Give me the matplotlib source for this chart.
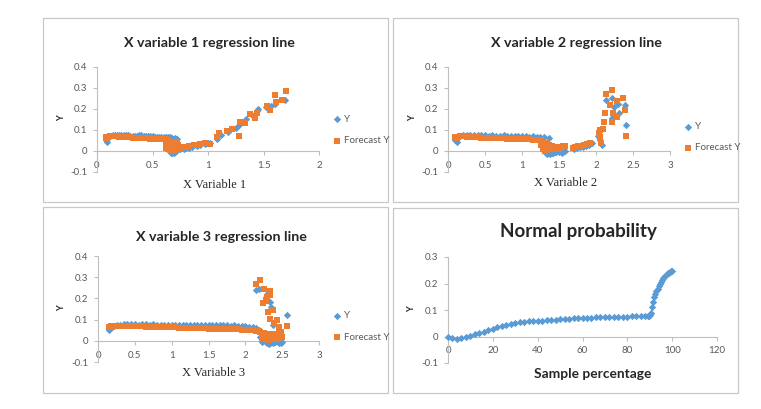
import matplotlib as mpl
import matplotlib.pyplot as plt
from matplotlib.patches import Rectangle

# -- data ---------------------------------------------------------------------
# X variable 1
x1_y = [0.08, 0.09, 0.10, 0.12, 0.14, 0.16, 0.18, 0.20, 0.22, 0.24, 0.26, 0.28,
        0.30, 0.32, 0.34, 0.36, 0.38, 0.40, 0.42, 0.44, 0.46, 0.48, 0.50, 0.52,
        0.54, 0.56, 0.58, 0.60,
        0.62, 0.63, 0.64, 0.65, 0.66, 0.67, 0.68, 0.69, 0.70, 0.71, 0.72, 0.73,
        0.64, 0.66, 0.68, 0.70, 0.72,
        0.75, 0.78, 0.80, 0.83, 0.86, 0.90, 0.93, 0.97, 1.00, 1.02, 1.08, 1.12,
        1.18, 1.25, 1.28, 1.31, 1.34, 1.40, 1.44, 1.45, 1.52, 1.57, 1.60, 1.69]
y1_y = [0.050, 0.045, 0.062, 0.072, 0.076, 0.078, 0.077, 0.077, 0.076, 0.075,
        0.074, 0.074, 0.073, 0.073, 0.072, 0.072, 0.074, 0.076, 0.072, 0.071,
        0.071, 0.070, 0.070, 0.069, 0.069, 0.068, 0.068, 0.067,
        0.065, 0.045, 0.025, 0.010, 0.000, -0.008, -0.010, -0.010, -0.005,
        0.000, 0.005, 0.010,
        0.066, 0.065, 0.064, 0.062, 0.058,
        0.008, 0.010, 0.012, 0.016, 0.020, 0.024, 0.028, 0.034, 0.040, 0.038,
        0.058, 0.075, 0.090, 0.110, 0.125, 0.140, 0.150, 0.170, 0.190, 0.200,
        0.210, 0.215, 0.225, 0.245]
x1_f = [0.08, 0.09, 0.10, 0.12, 0.14, 0.16, 0.18, 0.20, 0.22, 0.24, 0.26, 0.28,
        0.30, 0.32, 0.34, 0.36, 0.38, 0.40, 0.42, 0.44, 0.46, 0.48, 0.50, 0.52,
        0.54, 0.56, 0.58, 0.60,
        0.62, 0.62, 0.62, 0.64, 0.64, 0.64, 0.66, 0.66, 0.66, 0.68, 0.68, 0.68,
        0.70, 0.70, 0.70, 0.72, 0.72, 0.72, 0.73,
        0.75, 0.78, 0.80, 0.83, 0.87, 0.90, 0.93, 0.97, 1.02, 1.08, 1.10, 1.17,
        1.22, 1.28, 1.29, 1.33, 1.38, 1.42, 1.44, 1.53, 1.56, 1.60, 1.61, 1.67,
        1.70]
y1_f = [0.065, 0.060, 0.068, 0.071, 0.072, 0.071, 0.070, 0.069, 0.068, 0.067,
        0.066, 0.066, 0.065, 0.064, 0.063, 0.063, 0.062, 0.061, 0.061, 0.060,
        0.060, 0.059, 0.058, 0.058, 0.057, 0.056, 0.056, 0.055,
        0.055, 0.035, 0.015, 0.050, 0.028, 0.008, 0.045, 0.025, 0.003, 0.040,
        0.020, 0.002, 0.040, 0.022, 0.006, 0.045, 0.025, 0.010, 0.030,
        0.015, 0.020, 0.020, 0.025, 0.027, 0.030, 0.032, 0.040, 0.035, 0.065,
        0.085, 0.095, 0.105, 0.070, 0.140, 0.135, 0.175, 0.155, 0.180, 0.215,
        0.195, 0.265, 0.235, 0.245, 0.285]

# X variable 2
x2_y = [0.10, 0.12, 0.14, 0.16, 0.20, 0.25, 0.30, 0.35, 0.40, 0.45, 0.50, 0.55,
        0.60, 0.65, 0.70, 0.75, 0.80, 0.85, 0.90, 0.95, 1.00, 1.05, 1.10, 1.15,
        1.20, 1.24,
        1.26, 1.28, 1.30, 1.32, 1.34, 1.36, 1.38, 1.40, 1.42, 1.44, 1.46, 1.50,
        1.54, 1.58, 1.30, 1.36,
        1.70, 1.74, 1.78, 1.82, 1.86, 1.90, 1.94,
        2.03, 2.05, 2.08, 2.14, 2.21, 2.22, 2.24, 2.30, 2.31, 2.39, 2.41]
y2_y = [0.050, 0.045, 0.065, 0.072, 0.076, 0.077, 0.076, 0.078, 0.076, 0.075,
        0.074, 0.073, 0.074, 0.073, 0.073, 0.074, 0.072, 0.073, 0.071, 0.071,
        0.070, 0.070, 0.069, 0.070, 0.068, 0.067,
        0.040, 0.020, 0.000, -0.008, -0.012, -0.010, -0.012, -0.010, -0.008,
        -0.006, -0.004, -0.005, -0.010, 0.000, 0.065, 0.060,
        0.010, 0.015, 0.018, 0.020, 0.025, 0.030, 0.040,
        0.070, 0.052, 0.028, 0.245, 0.155, 0.250, 0.210, 0.223, 0.182, 0.221,
        0.122]
x2_f = [0.10, 0.12, 0.14, 0.16, 0.20, 0.25, 0.30, 0.35, 0.40, 0.45, 0.50, 0.55,
        0.60, 0.65, 0.70, 0.75, 0.80, 0.85, 0.90, 0.95, 1.00, 1.05, 1.10, 1.15,
        1.20, 1.24,
        1.25, 1.25, 1.28, 1.28, 1.28, 1.31, 1.31, 1.31, 1.34, 1.34, 1.34, 1.37,
        1.37, 1.40, 1.40, 1.43, 1.46, 1.50, 1.53, 1.56, 1.58,
        1.69, 1.72, 1.76, 1.80, 1.84, 1.88, 1.92,
        2.04, 2.05, 2.06, 2.07, 2.10, 2.11, 2.12, 2.14, 2.19, 2.21, 2.22, 2.23,
        2.29, 2.29, 2.36, 2.39, 2.41]
y2_f = [0.065, 0.062, 0.068, 0.070, 0.070, 0.069, 0.068, 0.066, 0.065, 0.064,
        0.063, 0.062, 0.062, 0.061, 0.060, 0.060, 0.059, 0.058, 0.058, 0.057,
        0.056, 0.055, 0.055, 0.054, 0.053, 0.052,
        0.050, 0.030, 0.045, 0.025, 0.008, 0.040, 0.020, 0.002, 0.040, 0.018,
        0.004, 0.030, 0.010, 0.025, 0.008, 0.015, 0.020, 0.010, 0.020, 0.025,
        0.025,
        0.015, 0.020, 0.022, 0.025, 0.030, 0.035, 0.040,
        0.084, 0.100, 0.068, 0.036, 0.107, 0.139, 0.179, 0.270, 0.218, 0.139,
        0.290, 0.179, 0.237, 0.160, 0.253, 0.194, 0.070]

# X variable 3
x3_y = [0.15, 0.18, 0.22, 0.26, 0.30, 0.35, 0.40, 0.45, 0.50, 0.55, 0.60, 0.65,
        0.70, 0.75, 0.80, 0.85, 0.90, 0.95, 1.00, 1.05, 1.10, 1.15, 1.20, 1.25,
        1.30, 1.35, 1.40, 1.45, 1.50, 1.55, 1.60, 1.65, 1.70, 1.75, 1.80, 1.85,
        1.90, 1.95, 2.00, 2.05, 2.10, 2.15,
        2.18, 2.20, 2.22, 2.24, 2.26, 2.28, 2.30, 2.32, 2.34, 2.36, 2.38, 2.40,
        2.42, 2.44, 2.46, 2.48, 2.50,
        2.15, 2.19, 2.28, 2.30, 2.33, 2.35, 2.38, 2.57]
y3_y = [0.050, 0.060, 0.070, 0.074, 0.076, 0.077, 0.078, 0.077, 0.078, 0.076,
        0.077, 0.078, 0.076, 0.077, 0.075, 0.076, 0.075, 0.076, 0.075, 0.076,
        0.075, 0.074, 0.076, 0.075, 0.074, 0.075, 0.076, 0.075, 0.074, 0.073,
        0.074, 0.073, 0.074, 0.073, 0.072, 0.073, 0.071, 0.070, 0.068, 0.066,
        0.064, 0.060,
        0.050, 0.020, -0.005, 0.000, 0.010, -0.005, -0.010, -0.013, -0.010,
        -0.008, -0.010, -0.005, 0.000, -0.008, -0.010, -0.010, -0.005,
        0.238, 0.246, 0.207, 0.223, 0.184, 0.160, 0.074, 0.124]
x3_f = [0.15, 0.18, 0.22, 0.26, 0.30, 0.35, 0.40, 0.45, 0.50, 0.55, 0.60, 0.65,
        0.70, 0.75, 0.80, 0.85, 0.90, 0.95, 1.00, 1.05, 1.10, 1.15, 1.20, 1.25,
        1.30, 1.35, 1.40, 1.45, 1.50, 1.55, 1.60, 1.65, 1.70, 1.75, 1.80, 1.85,
        1.90, 1.95, 2.00, 2.05, 2.10, 2.15,
        2.18, 2.20, 2.22, 2.22, 2.25, 2.25, 2.28, 2.28, 2.31, 2.31, 2.34, 2.34,
        2.37, 2.37, 2.40, 2.40, 2.43, 2.43, 2.46, 2.46, 2.49,
        2.15, 2.20, 2.26, 2.24, 2.28, 2.30, 2.34, 2.34, 2.31, 2.37, 2.33, 2.39,
        2.43, 2.46, 2.48, 2.50, 2.57]
y3_f = [0.065, 0.068, 0.070, 0.072, 0.072, 0.071, 0.070, 0.070, 0.069, 0.068,
        0.068, 0.067, 0.066, 0.066, 0.065, 0.065, 0.064, 0.064, 0.063, 0.063,
        0.062, 0.062, 0.061, 0.061, 0.060, 0.060, 0.059, 0.059, 0.058, 0.058,
        0.057, 0.057, 0.056, 0.056, 0.055, 0.055, 0.054, 0.053, 0.052, 0.051,
        0.050, 0.048,
        0.045, 0.040, 0.030, 0.012, 0.035, 0.015, 0.030, 0.010, 0.025, 0.005,
        0.030, 0.010, 0.030, 0.012, 0.025, 0.008, 0.030, 0.010, 0.040, 0.015,
        0.020,
        0.270, 0.285, 0.246, 0.176, 0.190, 0.207, 0.235, 0.215, 0.136, 0.144,
        0.105, 0.082, 0.097, 0.066, 0.042, 0.019, 0.069]

# Normal probability
pct = [0, 2, 4, 6, 8, 10, 12, 14, 16, 18, 20, 22, 24, 26, 28, 30, 32, 34, 36,
       38, 40, 42, 44, 46, 48, 50, 52, 54, 56, 58, 60, 62, 64, 66, 68, 70, 72,
       74, 76, 78, 80, 82, 84, 86, 88,
       89, 89.5, 90, 90.5, 91, 91.5, 92, 92.5, 93, 93.5, 94, 94.5, 95, 95.5,
       96, 96.5, 97, 97.5, 98, 98.5, 99, 99.5, 100]
pct_y = [-0.002, -0.006, -0.008, -0.006, -0.002, 0.003, 0.008, 0.013, 0.018,
         0.024, 0.029, 0.034, 0.039, 0.043, 0.047, 0.050, 0.053, 0.055, 0.057,
         0.058, 0.059, 0.060, 0.062, 0.063, 0.064, 0.065, 0.066, 0.067, 0.068,
         0.069, 0.070, 0.071, 0.071, 0.072, 0.072, 0.073, 0.073, 0.074, 0.074,
         0.075, 0.075, 0.076, 0.076, 0.077, 0.077,
         0.078, 0.078, 0.080, 0.090, 0.110, 0.130, 0.150, 0.160, 0.170, 0.180,
         0.190, 0.198, 0.205, 0.212, 0.219, 0.224, 0.229, 0.234, 0.238, 0.241,
         0.244, 0.246, 0.248]

titles = ["X variable 1 regression line", "X variable 2 regression line",
          "X variable 3 regression line", "Normal probability"]
xlabels = ["X Variable 1", "X Variable 2", "X Variable 3", "Sample percentage"]

# -- style --------------------------------------------------------------------
mpl.rcParams.update({
    "font.family": ["Lato", "DejaVu Sans"],
    "font.size": 7,
})
BLUE = "#5B9BD5"
ORANGE = "#ED7D31"
AX_GREY = "#bfbfbf"
TXT_GREY = "#595959"

W, H = 761, 409
fig = plt.figure(figsize=(W / 100, H / 100), dpi=100)


def px_rect(x0, y0, x1, y1):
    """pixel box (top-left origin) -> figure fraction [l, b, w, h]"""
    return [x0 / W, 1 - y1 / H, (x1 - x0) / W, (y1 - y0) / H]


def ftext(x, y, s, **kw):
    fig.text(x / W, 1 - y / H, s, ha="center", va="center", **kw)


# panel frames (behind the axes)
for x0, y0, x1, y1 in [(43, 18, 388, 202), (393, 18, 738, 202),
                       (43, 207, 388, 393), (393, 208, 738, 393)]:
    fig.patches.append(Rectangle((x0 / W, 1 - y1 / H), (x1 - x0) / W,
                                 (y1 - y0) / H, transform=fig.transFigure,
                                 facecolor="white", edgecolor="#c8c8c8",
                                 linewidth=0.9, zorder=-5))


def fmt_num(v):
    v = round(v, 2)
    if v == int(v):
        return str(int(v))
    return f"{v:g}"


def style_axes(ax, xlim, ylim, xticks, yticks):
    ax.set_xlim(*xlim)
    ax.set_ylim(*ylim)
    ax.set_facecolor("none")
    for s in ("top", "right"):
        ax.spines[s].set_visible(False)
    ax.spines["bottom"].set_position(("data", 0))
    for s in ("left", "bottom"):
        ax.spines[s].set_color(AX_GREY)
        ax.spines[s].set_linewidth(0.8)
    ax.set_xticks(xticks)
    ax.set_xticklabels([fmt_num(v) for v in xticks])
    ax.set_yticks(yticks)
    ax.set_yticklabels([fmt_num(v) for v in yticks])
    ax.tick_params(axis="both", colors=AX_GREY, labelcolor=TXT_GREY,
                   labelsize=7, length=3, width=0.8, pad=4)


specs = [
    dict(rect=px_rect(97, 67, 319, 172), xlim=(0, 2), ylim=(-0.1, 0.4),
         xt=[0, 0.5, 1, 1.5, 2], yt=[-0.1, 0, 0.1, 0.2, 0.3, 0.4],
         data=(x1_y, y1_y, x1_f, y1_f), leg=(1.063, 0.40),
         title=(209, 43), xl=(215, 185), yl=(62, 118)),
    dict(rect=px_rect(448, 67, 670, 172), xlim=(0, 3), ylim=(-0.1, 0.4),
         xt=[0, 0.5, 1, 1.5, 2, 2.5, 3], yt=[-0.1, 0, 0.1, 0.2, 0.3, 0.4],
         data=(x2_y, y2_y, x2_f, y2_f), leg=(1.063, 0.33),
         title=(576, 43), xl=(566, 183), yl=(413, 118)),
    dict(rect=px_rect(98, 256, 319, 362), xlim=(0, 3), ylim=(-0.1, 0.4),
         xt=[0, 0.5, 1, 1.5, 2, 2.5, 3], yt=[-0.1, 0, 0.1, 0.2, 0.3, 0.4],
         data=(x3_y, y3_y, x3_f, y3_f), leg=(1.063, 0.335),
         title=(221, 237), xl=(214, 373), yl=(62, 308)),
    dict(rect=px_rect(448, 257, 717, 363), xlim=(0, 120), ylim=(-0.1, 0.3),
         xt=[0, 20, 40, 60, 80, 100, 120], yt=[-0.1, 0, 0.1, 0.2, 0.3],
         data=None, leg=None,
         title=(578, 232), xl=(593, 374), yl=(412, 309)),
]
title_sizes = [10.3, 10.3, 10.3, 13.5]

for i, sp in enumerate(specs):
    ax = fig.add_axes(sp["rect"])
    style_axes(ax, sp["xlim"], sp["ylim"], sp["xt"], sp["yt"])
    if sp["data"] is not None:
        xy, yy, xf, yf = sp["data"]
        ax.scatter(xy, yy, s=14, marker="D", color=BLUE, linewidths=0,
                   label="Y", zorder=3, clip_on=False)
        ax.scatter(xf, yf, s=22, marker="s", color=ORANGE, linewidths=0,
                   label="Forecast Y", zorder=4, clip_on=False)
        leg = ax.legend(loc="center left", bbox_to_anchor=sp["leg"],
                        frameon=False, borderaxespad=0, borderpad=0,
                        handlelength=0.8, handletextpad=0.3,
                        labelspacing=1.25, fontsize=7)
        for t in leg.get_texts():
            t.set_color(TXT_GREY)
        xl_kw = dict(family=["Liberation Serif", "DejaVu Serif"],
                     fontsize=9, color="#262626")
    else:
        ax.scatter(pct, pct_y, s=14, marker="D", color=BLUE, linewidths=0,
                   zorder=3, clip_on=False)
        xl_kw = dict(fontsize=9.9, fontweight="bold", color="#262626")

    ftext(*sp["title"], titles[i], fontsize=title_sizes[i], fontweight="bold",
          color="#262626")
    ftext(*sp["xl"], xlabels[i], **xl_kw)
    ftext(*sp["yl"], "Y", fontsize=6.5, fontweight="bold", rotation=90,
          color="#262626")

fig.savefig("out.png", dpi=100)
